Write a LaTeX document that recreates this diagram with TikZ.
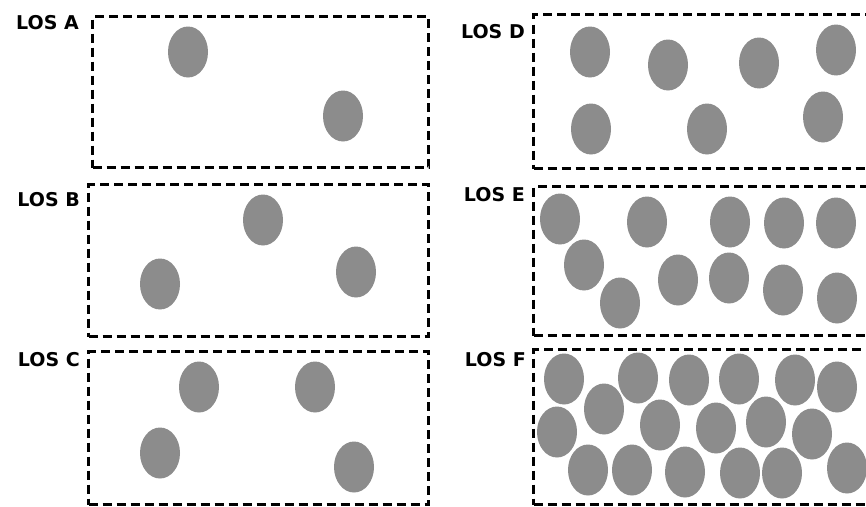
\documentclass[tikz,border=0pt]{standalone}
\usepackage{fontspec}
\setmainfont{DejaVu Sans}
\usetikzlibrary{shapes.geometric}
\definecolor{dotgray}{RGB}{140,140,140}
\tikzset{
  losbox/.style={draw=black, line width=3pt, dash pattern=on 9pt off 5pt, anchor=north west, inner sep=0pt},
  loslabel/.style={font=\bfseries\fontsize{19}{22}\selectfont, anchor=east, inner sep=0pt, text=black},
  ped/.style={ellipse, fill=dotgray, draw=none, minimum width=40pt, minimum height=51pt, inner sep=0pt}
}
\begin{document}
\begin{tikzpicture}[x=1pt,y=-1pt]
\useasboundingbox (0,0) rectangle (866,506);
\fill[white] (0,0) rectangle (866,506);
\clip (0,0) rectangle (866,506);
% boxes
\node[losbox, minimum width=336pt, minimum height=151pt] (boxA) at (91,15) {};
\node[losbox, minimum width=340pt, minimum height=152pt] (boxB) at (87,183) {};
\node[losbox, minimum width=340pt, minimum height=153pt] (boxC) at (87,350) {};
\node[losbox, minimum width=345pt, minimum height=154pt] (boxD) at (532,13) {};
\node[losbox, minimum width=345pt, minimum height=149pt] (boxE) at (532,185) {};
\node[losbox, minimum width=345pt, minimum height=155pt] (boxF) at (532,348) {};
% labels
\node[loslabel] (labA) at (79,22.5) {LOS A};
\node[loslabel] (labB) at (80,200) {LOS B};
\node[loslabel] (labC) at (80,360) {LOS C};
\node[loslabel] (labD) at (525,32) {LOS D};
\node[loslabel] (labE) at (525,195) {LOS E};
\node[loslabel] (labF) at (526,360) {LOS F};
% LOS A
\node[ped] (a1) at (188,52) {};
\node[ped] (a2) at (343,116) {};
% LOS B
\node[ped] (b1) at (263,220) {};
\node[ped] (b2) at (160,284) {};
\node[ped] (b3) at (356,272) {};
% LOS C
\node[ped] (c1) at (199,387) {};
\node[ped] (c2) at (315,387) {};
\node[ped] (c3) at (160,453) {};
\node[ped] (c4) at (354,467) {};
% LOS D
\node[ped] (d1) at (590,52) {};
\node[ped] (d2) at (668,65) {};
\node[ped] (d3) at (759,63) {};
\node[ped] (d4) at (836,50) {};
\node[ped] (d5) at (591,129) {};
\node[ped] (d6) at (707,129) {};
\node[ped] (d7) at (823,117) {};
% LOS E
\node[ped] (e1) at (560,219) {};
\node[ped] (e2) at (647,222) {};
\node[ped] (e3) at (730,222) {};
\node[ped] (e4) at (784,223) {};
\node[ped] (e5) at (836,223) {};
\node[ped] (e6) at (584,265) {};
\node[ped] (e7) at (620,303) {};
\node[ped] (e8) at (678,280) {};
\node[ped] (e9) at (729,278) {};
\node[ped] (e10) at (783,290) {};
\node[ped] (e11) at (837,298) {};
% LOS F
\node[ped] (f1) at (564,379) {};
\node[ped] (f2) at (638,378) {};
\node[ped] (f3) at (689,380) {};
\node[ped] (f4) at (739,379) {};
\node[ped] (f5) at (795,380) {};
\node[ped] (f6) at (837,387) {};
\node[ped] (f7) at (604,409) {};
\node[ped] (f8) at (557,432) {};
\node[ped] (f9) at (660,425) {};
\node[ped] (f10) at (716,428) {};
\node[ped] (f11) at (766,422) {};
\node[ped] (f12) at (812,434) {};
\node[ped] (f13) at (588,470) {};
\node[ped] (f14) at (632,470) {};
\node[ped] (f15) at (685,472) {};
\node[ped] (f16) at (740,473) {};
\node[ped] (f17) at (782,473) {};
\node[ped] (f18) at (847,468) {};
\end{tikzpicture}
\end{document}
